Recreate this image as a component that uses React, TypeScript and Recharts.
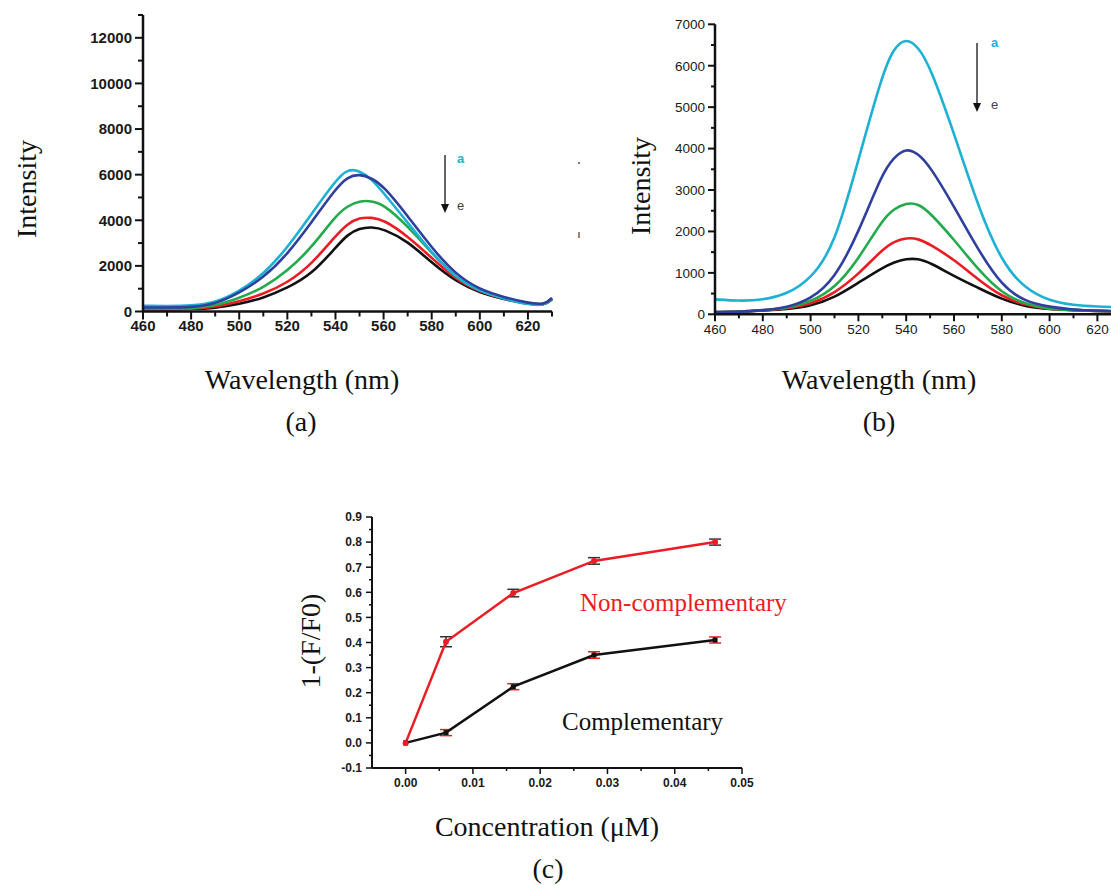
import React from "react";
import { LineChart, Line, XAxis, YAxis, ErrorBar } from "recharts";

// ---- panel (a) spectra ----
const wlA = [460, 470, 480, 490, 500, 510, 520, 530, 540, 545, 550, 555, 560, 570, 580, 590, 600, 610, 620, 627, 630];
const cyanA = [250, 240, 250, 380, 880, 1620, 2790, 4270, 5740, 6250, 6180, 5810, 5200, 3900, 2570, 1470, 880, 560, 300, 260, 590];
const blueA = [180, 170, 180, 320, 810, 1470, 2500, 3900, 5370, 5910, 6030, 5850, 5500, 4190, 2790, 1620, 955, 630, 370, 290, 600];
const greenA = [130, 120, 130, 250, 590, 1030, 1770, 2790, 4190, 4630, 4850, 4850, 4700, 3750, 2570, 1470, 880, 590, 360, 280, 560];
const redA = [110, 100, 110, 200, 440, 765, 1250, 2060, 3310, 3850, 4120, 4120, 4030, 3310, 2350, 1400, 850, 570, 350, 270, 560];
const blackA = [100, 90, 100, 150, 320, 590, 1030, 1620, 2790, 3380, 3650, 3705, 3620, 3090, 2130, 1320, 810, 540, 330, 260, 540];

// ---- panel (b) spectra ----
const wlB = [460, 470, 480, 490, 500, 510, 520, 530, 535, 540, 545, 550, 560, 570, 580, 590, 600, 610, 620, 630];
const cyanB = [361, 321, 345, 481, 843, 1645, 3732, 5800, 6450, 6670, 6460, 5980, 4375, 2608, 1245, 602, 321, 217, 185, 170];
const blueB = [56, 60, 96, 160, 361, 843, 1967, 3412, 3800, 4013, 3880, 3571, 2608, 1565, 682, 297, 176, 110, 85, 75];
const greenB = [56, 60, 96, 150, 297, 618, 1324, 2287, 2550, 2690, 2670, 2449, 1806, 1084, 505, 241, 120, 100, 80, 70];
const redB = [56, 60, 96, 140, 241, 505, 963, 1565, 1760, 1846, 1830, 1685, 1324, 843, 425, 216, 120, 100, 80, 70];
const blackB = [50, 55, 90, 120, 200, 401, 763, 1124, 1260, 1340, 1345, 1244, 923, 642, 361, 185, 120, 100, 80, 70];

// ---- panel (c) quenching ----
const conc = [0, 0.006, 0.016, 0.028, 0.046];
const nonComp = [0, 0.403, 0.597, 0.725, 0.8];
const nonCompErr = [0, 0.02, 0.015, 0.013, 0.012];
const comp = [0, 0.041, 0.224, 0.35, 0.41];
const compErr = [0, 0.012, 0.012, 0.013, 0.012];

// ticks
const wlTicks = [460, 470, 480, 490, 500, 510, 520, 530, 540, 550, 560, 570, 580, 590, 600, 610, 620, 630];
const wlLabels = [460, 480, 500, 520, 540, 560, 580, 600, 620];
const intTicksA = [0, 1000, 2000, 3000, 4000, 5000, 6000, 7000, 8000, 9000, 10000, 11000, 12000, 13000];
const intLabelsA = [0, 2000, 4000, 6000, 8000, 10000, 12000];
const intTicksB = [0, 500, 1000, 1500, 2000, 2500, 3000, 3500, 4000, 4500, 5000, 5500, 6000, 6500, 7000];
const intLabelsB = [0, 1000, 2000, 3000, 4000, 5000, 6000, 7000];
const concTicks = [0, 0.005, 0.01, 0.015, 0.02, 0.025, 0.03, 0.035, 0.04, 0.045, 0.05];
const concLabels = [0, 0.01, 0.02, 0.03, 0.04, 0.05];
const quenchTicks = [-0.1, -0.05, 0, 0.05, 0.1, 0.15, 0.2, 0.25, 0.3, 0.35, 0.4, 0.45, 0.5, 0.55, 0.6, 0.65, 0.7, 0.75, 0.8, 0.85, 0.9];
const quenchLabels = [-0.1, 0, 0.1, 0.2, 0.3, 0.4, 0.5, 0.6, 0.7, 0.8, 0.9];

const C_CYAN = "#1cb1d4";
const C_BLUE = "#2e3f9e";
const C_GREEN = "#23aa4c";
const C_RED = "#ec1c24";
const C_BLACK = "#111111";

const SANS = "Liberation Sans, Arial, sans-serif";
const SERIF = "Liberation Serif, Times New Roman, serif";

const dataA = wlA.map((w, i) => ({ w, a: cyanA[i], b: blueA[i], c: greenA[i], d: redA[i], e: blackA[i] }));
const dataB = wlB.map((w, i) => ({ w, a: cyanB[i], b: blueB[i], c: greenB[i], d: redB[i], e: blackB[i] }));
const dataC = conc.map((x, i) => ({
  x,
  non: nonComp[i],
  nonErr: nonCompErr[i],
  comp: comp[i],
  compErr: compErr[i],
}));

type TickCfg = {
  labels: number[];
  major: number;
  minor: number;
  size: number;
  weight: number | string;
  gap: number;
  sw: number;
  fmt: (v: number) => string;
};

const has = (arr: number[], v: number) => arr.some((m) => Math.abs(m - v) < 1e-9);

function xTick(cfg: TickCfg) {
  return (p: any) => {
    const { x, y, payload } = p;
    const v = payload.value;
    const maj = has(cfg.labels, v);
    return (
      <g>
        <line x1={x} x2={x} y1={y} y2={y + (maj ? cfg.major : cfg.minor)} stroke="#111" strokeWidth={cfg.sw} />
        {maj && (
          <text x={x} y={y + cfg.gap} textAnchor="middle" fontSize={cfg.size} fontWeight={cfg.weight} fontFamily={SANS} fill="#1a1a1a">
            {cfg.fmt(v)}
          </text>
        )}
      </g>
    );
  };
}

function yTick(cfg: TickCfg) {
  return (p: any) => {
    const { x, y, payload } = p;
    const v = payload.value;
    const maj = has(cfg.labels, v);
    return (
      <g>
        <line x1={x - (maj ? cfg.major : cfg.minor)} x2={x} y1={y} y2={y} stroke="#111" strokeWidth={cfg.sw} />
        {maj && (
          <text x={x - cfg.gap} y={y + cfg.size * 0.36} textAnchor="end" fontSize={cfg.size} fontWeight={cfg.weight} fontFamily={SANS} fill="#1a1a1a">
            {cfg.fmt(v)}
          </text>
        )}
      </g>
    );
  };
}

const tickA = { major: 8, minor: 5, size: 15, weight: "bold", sw: 2 };
const tickB = { major: 7, minor: 4, size: 13.5, weight: "normal", sw: 2 };
const tickC = { major: 6, minor: 3, size: 12, weight: "bold", sw: 1.5 };

function Spectra({
  data,
  xTicks,
  yTicks,
  yMax,
  xt,
  yt,
  width,
  height,
  margin,
}: {
  data: any[];
  xTicks: number[];
  yTicks: number[];
  yMax: number;
  xt: any;
  yt: any;
  width: number;
  height: number;
  margin: { top: number; right: number; bottom: number; left: number };
}) {
  const series: [string, string][] = [
    ["e", C_BLACK],
    ["d", C_RED],
    ["c", C_GREEN],
    ["a", C_CYAN],
    ["b", C_BLUE],
  ];
  return (
    <LineChart width={width} height={height} data={data} margin={margin}>
      <XAxis
        dataKey="w"
        type="number"
        domain={[460, 630]}
        ticks={xTicks}
        interval={0}
        height={30}
        tickSize={0}
        tickMargin={0}
        tickLine={false}
        axisLine={{ stroke: "#111", strokeWidth: 2.5 }}
        tick={xt}
      />
      <YAxis
        type="number"
        domain={[0, yMax]}
        ticks={yTicks}
        interval={0}
        width={60}
        tickSize={0}
        tickMargin={0}
        tickLine={false}
        axisLine={{ stroke: "#111", strokeWidth: 2.5 }}
        tick={yt}
      />
      {series.map(([k, c]) => (
        <Line
          key={k}
          dataKey={k}
          type="basis"
          stroke={c}
          strokeWidth={2.6}
          dot={false}
          activeDot={false}
          isAnimationActive={false}
        />
      ))}
    </LineChart>
  );
}

function Quench() {
  return (
    <LineChart width={470} height={300} data={dataC} margin={{ top: 17, right: 28, bottom: 7, left: 22 }}>
      <XAxis
        dataKey="x"
        type="number"
        domain={[-0.005, 0.05]}
        ticks={concTicks}
        interval={0}
        height={25}
        tickSize={0}
        tickMargin={0}
        tickLine={false}
        axisLine={{ stroke: "#111", strokeWidth: 2 }}
        tick={xTick({ ...tickC, labels: concLabels, gap: 19, fmt: (v) => v.toFixed(2) })}
      />
      <YAxis
        type="number"
        domain={[-0.1, 0.9]}
        ticks={quenchTicks}
        interval={0}
        width={50}
        tickSize={0}
        tickMargin={0}
        tickLine={false}
        axisLine={{ stroke: "#111", strokeWidth: 2 }}
        tick={yTick({ ...tickC, labels: quenchLabels, gap: 10, fmt: (v) => v.toFixed(1) })}
      />
      <Line
        dataKey="comp"
        type="linear"
        stroke={C_BLACK}
        strokeWidth={2.5}
        activeDot={false}
        isAnimationActive={false}
        dot={(p: any) => <rect key={`c${p.index}`} x={p.cx - 2.5} y={p.cy - 2.5} width={5} height={5} fill={C_BLACK} />}
      >
        <ErrorBar dataKey="compErr" direction="y" width={6} stroke={C_RED} strokeWidth={1.5} isAnimationActive={false} />
      </Line>
      <Line
        dataKey="non"
        type="linear"
        stroke={C_RED}
        strokeWidth={2.5}
        activeDot={false}
        isAnimationActive={false}
        dot={(p: any) => <circle key={`n${p.index}`} cx={p.cx} cy={p.cy} r={3} fill={C_RED} />}
      >
        <ErrorBar dataKey="nonErr" direction="y" width={6} stroke="#333" strokeWidth={1.5} isAnimationActive={false} />
      </Line>
    </LineChart>
  );
}

function Overlay() {
  return (
    <svg width={1111} height={885} style={{ position: "absolute", left: 0, top: 0, pointerEvents: "none" }}>
      <g fontFamily={SERIF} fontSize={28} fill="#111">
        <text transform="translate(36,189) rotate(-90)" textAnchor="middle">Intensity</text>
        <text x={302} y={389} textAnchor="middle">Wavelength (nm)</text>
        <text x={301} y={431} textAnchor="middle">(a)</text>
        <text transform="translate(650,186) rotate(-90)" textAnchor="middle">Intensity</text>
        <text x={879} y={389} textAnchor="middle">Wavelength (nm)</text>
        <text x={879} y={431} textAnchor="middle">(b)</text>
        <text transform="translate(320,641) rotate(-90)" textAnchor="middle">1-(F/F0)</text>
        <text x={547} y={836} textAnchor="middle">Concentration (μM)</text>
        <text x={548} y={878} textAnchor="middle">(c)</text>
      </g>
      <text x={580} y={611} fontFamily={SERIF} fontSize={25} fill={C_RED}>Non-complementary</text>
      <text x={562} y={730} fontFamily={SERIF} fontSize={25} fill="#111">Complementary</text>

      {/* a -> e arrows */}
      <line x1={445} x2={445} y1={155} y2={205} stroke="#333" strokeWidth={1.5} />
      <polygon points="441,204 449,204 445,213" fill="#111" />
      <text x={457} y={163} fontFamily={SANS} fontSize={13} fontWeight="bold" fill={C_CYAN}>a</text>
      <text x={457} y={210} fontFamily={SANS} fontSize={13} fill="#444">e</text>
      <circle cx={579} cy={163} r={1} fill="#6b4a33" />
      <line x1={579} x2={579} y1={232} y2={238} stroke="#8a5a3a" strokeWidth={1.5} />

      <line x1={977} x2={977} y1={43} y2={104} stroke="#333" strokeWidth={1.5} />
      <polygon points="973,103 981,103 977,112" fill="#111" />
      <text x={991} y={47} fontFamily={SANS} fontSize={13} fontWeight="bold" fill={C_CYAN}>a</text>
      <text x={991} y={109} fontFamily={SANS} fontSize={13} fill="#444">e</text>
    </svg>
  );
}

export default function App() {
  return (
    <div
      style={{
        position: "absolute",
        left: 0,
        top: 0,
        width: 1111,
        height: 885,
        overflow: "hidden",
        background: "#fff",
      }}
    >
      <div style={{ position: "absolute", left: 0, top: 0 }}>
        <Spectra
          data={dataA}
          xTicks={wlTicks}
          yTicks={intTicksA}
          yMax={13000}
          xt={xTick({ ...tickA, labels: wlLabels, gap: 19, fmt: (v) => String(v) })}
          yt={yTick({ ...tickA, labels: intLabelsA, gap: 11, fmt: (v) => String(v) })}
          width={600}
          height={345}
          margin={{ top: 15, right: 48, bottom: 3.5, left: 83 }}
        />
      </div>
      <div style={{ position: "absolute", left: 640, top: 0 }}>
        <Spectra
          data={dataB}
          xTicks={wlTicks}
          yTicks={intTicksB}
          yMax={7000}
          xt={xTick({ ...tickB, labels: wlLabels, gap: 19.5, fmt: (v) => String(v) })}
          yt={yTick({ ...tickB, labels: intLabelsB, gap: 10, fmt: (v) => String(v) })}
          width={490}
          height={345}
          margin={{ top: 24.3, right: 8.7, bottom: 0.7, left: 15 }}
        />
      </div>
      <div style={{ position: "absolute", left: 300, top: 500 }}>
        <Quench />
      </div>
      <Overlay />
    </div>
  );
}
